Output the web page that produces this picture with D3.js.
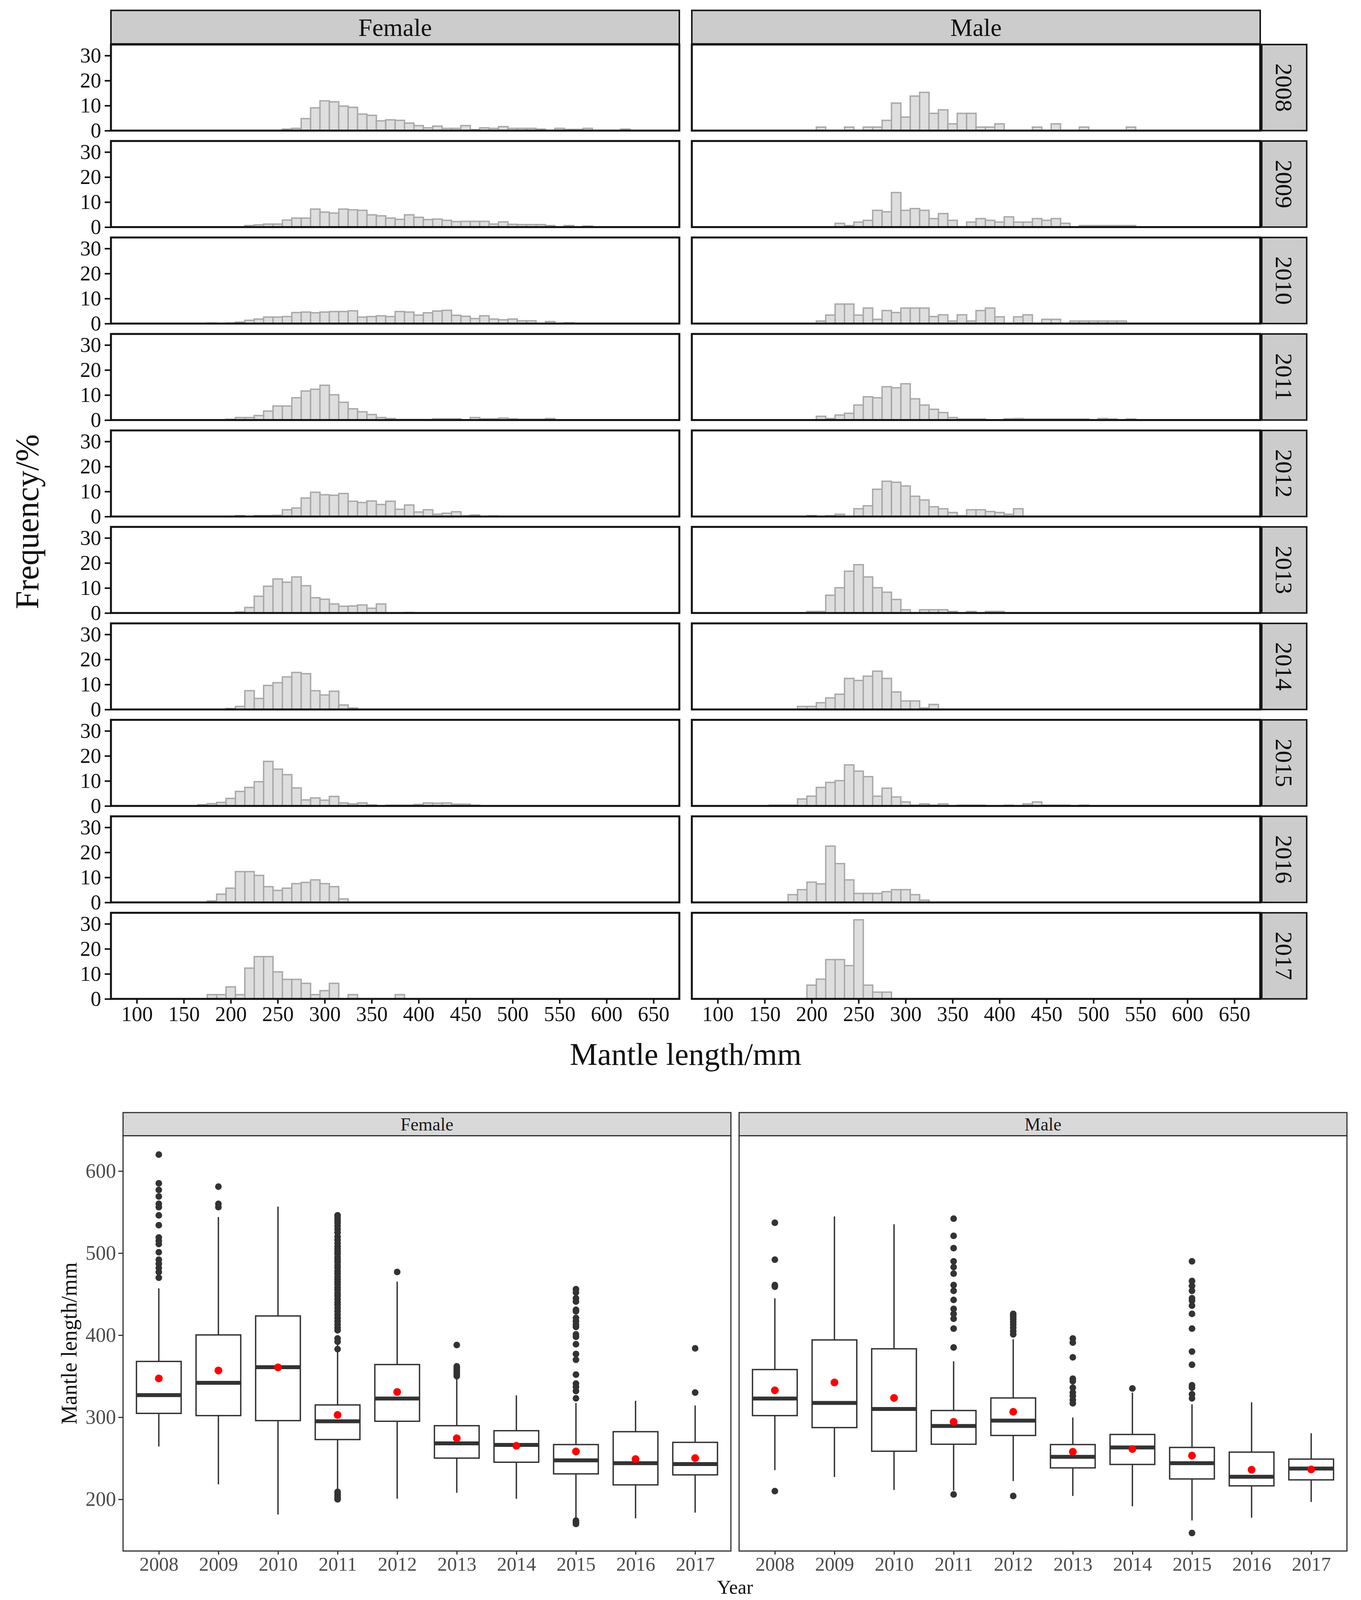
<!DOCTYPE html>
<html><head><meta charset="utf-8">
<script src="https://cdn.jsdelivr.net/npm/d3@7"></script>
<style>html,body{margin:0;padding:0;background:#fff;overflow:hidden} svg{display:block}</style>
</head><body>
<svg id="c"></svg>
<script>
// ---------------- DATA ----------------
const years = ["2008","2009","2010","2011","2012","2013","2014","2015","2016","2017"];
const sexes = ["Female","Male"];
const histXTicks = [100,150,200,250,300,350,400,450,500,550,600,650];
const histYTicks = [0,10,20,30];
const boxYTicks = [200,300,400,500,600];

// histogram: centre of first 10-mm bin and frequencies (%)
const femaleStart = [260,220,180,200,200,210,200,170,180,180];
const femaleFreq2008 = [0.6,0.9,4.8,9.1,11.9,11.5,9.8,9.3,6.6,6.1,3.9,4.3,4.1,3.0,2.0,1.1,1.8,0.9,0.9,2.0,0.4,1.1,0.9,1.6,0.9,0.9,0.9,0.6,0,0.9,0.5,0.5,0.9,0,0,0,0.6];
const femaleFreq2009 = [0.6,0.9,1.2,1.2,2.8,3.6,3.6,7.2,6.0,5.6,7.2,6.9,6.7,4.9,4.5,3.6,3.1,4.9,3.9,3.0,3.2,2.7,2.2,2.3,2.3,2.3,1.2,2.1,1.1,1.0,1.0,1.0,0.6,0,0.6,0,0.4];
const femaleFreq2010 = [0.2,0,0.2,0.6,1.3,1.8,2.6,2.6,2.8,4.4,4.6,4.3,4.6,4.8,4.8,5.1,2.6,2.8,3.1,2.8,4.8,4.6,3.4,4.3,5.0,5.3,3.3,2.9,2.0,3.1,1.8,1.5,1.8,1.1,1.1,0,0.8,0,0.3];
const femaleFreq2011 = [0.3,1.0,1.0,1.8,3.6,5.6,5.6,8.9,11.6,12.3,13.9,10.1,7.1,4.5,3.3,2.2,1.0,0.6,0.2,0.2,0.2,0.2,0.5,0.5,0.5,0,1.0,0.5,0.5,0.8,0.5,0.3,0.3,0.3,0.6];
const femaleFreq2012 = [0.1,0.4,0.1,0.4,0.4,0.5,2.7,3.4,7.4,9.7,8.7,8.5,9.2,6.1,5.6,6.2,4.8,6.1,2.9,4.6,1.8,2.7,0.9,1.3,1.9,0.3,0.6,0,0.2];
const femaleFreq2013 = [0.4,2.2,6.7,10.7,13.6,12.3,14.4,10.9,6.1,5.5,3.6,2.7,2.8,3.2,1.9,3.6,0,0,0.2];
const femaleFreq2014 = [0.4,1.2,7.5,4.4,9.6,10.7,13.0,14.8,14.3,7.5,5.8,7.3,1.8,0.6];
const femaleFreq2015 = [0.5,0.9,1.4,3.0,5.8,7.4,9.7,17.8,14.7,12.5,7.2,2.4,3.2,2.3,3.8,1.2,0.8,1.2,0.4,0,0.3,0.3,0.3,0.6,1.2,1.1,1.2,0.7,0.7,0.3];
const femaleFreq2016 = [0.6,3.3,5.7,12.3,12.3,10.8,6.3,4.8,5.7,7.5,8.0,9.0,7.5,6.3,1.4];
const femaleFreq2017 = [1.7,1.7,4.8,1.7,12.3,16.9,16.9,10.8,7.8,7.8,6.2,1.7,3.3,6.2,0,1.7,0,0,0,0,1.7];

const maleStart = [210,230,210,210,200,200,190,160,180,200];
const maleFreq2008 = [1.4,0,0,1.4,0,1.4,1.4,4.1,11.0,5.4,13.8,15.3,6.9,8.3,2.7,6.9,6.9,1.4,1.4,2.7,0,0,0,1.4,0,2.7,0,0,1.4,0,0,0,0,1.4];
const maleFreq2009 = [1.5,0.6,2.0,2.7,6.7,6.1,13.8,6.7,7.4,6.7,3.4,5.4,2.7,0,2.0,3.4,2.7,2.0,4.1,2.0,2.0,3.4,2.7,3.4,1.5,0,0.6,0.6,0.6,0.6,0.6,0.6];
const maleFreq2010 = [1.0,3.4,7.8,7.8,3.4,6.2,1.7,5.2,4.4,6.2,6.2,6.2,2.8,3.5,1.0,3.5,1.0,5.2,6.2,2.7,0,2.7,3.5,0,1.7,1.7,0,1.0,1.0,1.0,1.0,1.0,1.0];
const maleFreq2011 = [1.5,0.6,2.0,2.7,6.0,9.3,8.9,13.3,12.9,14.5,8.5,6.0,4.3,3.0,1.0,0.4,0.4,0.4,0,0,0.5,0.6,0.4,0.4,0.4,0.4,0.4,0.4,0.4,0,0.6,0.4,0,0.4];
const maleFreq2012 = [0.4,0,0.3,0.9,0,3.1,4.3,10.9,14.1,13.7,12.2,8.1,6.6,3.9,3.1,1.6,0.3,2.7,2.7,2.0,1.6,0.9,3.1];
const maleFreq2013 = [0.6,0.6,7.1,10.1,16.7,19.3,14.4,10.1,8.3,5.4,1.3,0,1.3,1.3,1.3,0.6,0,0.6,0,0.6,0.6];
const maleFreq2014 = [1.2,1.2,2.7,4.6,6.1,12.4,11.6,13.3,15.3,12.4,7.0,3.4,3.4,0.6,2.0];
const maleFreq2015 = [0.3,0.3,0.3,2.8,3.9,7.4,9.4,10.1,16.4,13.9,11.7,3.9,7.1,3.6,1.6,0.3,0.8,0.3,0.8,0,0.3,0.3,0.3,0,0,0.3,0,0.8,1.6,0.3,0.3,0.3,0,0.3];
const maleFreq2016 = [3.1,5.1,8.1,7.4,22.5,15.5,9.0,3.6,3.6,3.6,4.3,5.1,5.1,3.1,0.9];
const maleFreq2017 = [5.5,7.9,15.7,15.7,13.3,31.6,5.5,2.7,2.7];

// boxplot statistics (mm)
const femaleLo     = [264.4,218.3,181.5,210.6,200.7,208.0,200.7,176.1,176.8,183.8];
const femaleQ1     = [304.7,302.0,295.9,272.8,295.1,250.2,245.2,231.0,217.6,229.8];
const femaleMedian = [327.0,342.0,361.0,295.1,322.8,268.2,266.3,247.5,244.0,242.9];
const femaleQ3     = [368.0,400.3,423.4,315.0,364.2,289.7,283.6,266.7,282.4,269.4];
const femaleHi     = [457.0,544.0,556.6,389.0,465.2,348.9,326.6,317.4,320.1,314.3];
const femaleMean   = [347.3,357.0,360.8,302.8,330.8,274.4,265.2,258.3,249.0,250.2];
const femaleOut2008 = [620,585,577,569,560,556,546,534,519,515,511,501,492,487,482,477,470];
const femaleOut2009 = [581,560,556];
const femaleOut2010 = [];
const femaleOut2011 = [546,543,540,537,533,529,525,520,516,512,508,505,502,499,495,492,489,485,482,478,475,471,468,465,462,458,455,451,448,444,440,437,433,429,425,421,417,413,409,406,396,392,383,209,207,205,203,201,200];
const femaleOut2012 = [477];
const femaleOut2013 = [388,362,360,358,356,354,352,350];
const femaleOut2014 = [];
const femaleOut2015 = [456,452,445,441,431,429,421,417,413,410,401,398,389,377,370,352,341,337,332,323,174,172,170];
const femaleOut2016 = [];
const femaleOut2017 = [384,330];

const maleLo     = [235.6,227.2,211.4,210.6,222.2,204.1,191.5,174.2,177.6,196.8];
const maleQ1     = [302.0,287.4,258.6,267.1,277.8,238.3,242.5,224.8,216.4,223.7];
const maleMedian = [322.8,317.4,310.1,289.4,295.9,251.7,263.2,244.0,227.5,237.5];
const maleQ3     = [358.1,394.2,383.4,308.2,323.5,266.7,279.0,263.2,257.5,249.0];
const maleHi     = [444.9,544.7,535.1,368.1,395.0,299.7,330.0,315.9,318.2,280.5];
const maleMean   = [332.8,342.4,323.5,294.4,306.6,257.9,261.3,253.3,236.0,236.4];
const maleOut2008 = [537,492,461,459,210];
const maleOut2009 = [];
const maleOut2010 = [];
const maleOut2011 = [542,521,506,490,483,475,461,454,443,432,426,420,408,385,206];
const maleOut2012 = [426,424,422,419,416,413,409,405,401,204];
const maleOut2013 = [396,391,373,347,344,336,330,326,321,317];
const maleOut2014 = [335];
const maleOut2015 = [490,466,460,454,445,442,436,426,408,380,364,339,336,328,323,159];
const maleOut2016 = [];
const maleOut2017 = [];

// ---------------- ASSEMBLY ----------------
const histStarts = [femaleStart, maleStart];
const histFreqs = [
  [femaleFreq2008,femaleFreq2009,femaleFreq2010,femaleFreq2011,femaleFreq2012,femaleFreq2013,femaleFreq2014,femaleFreq2015,femaleFreq2016,femaleFreq2017],
  [maleFreq2008,maleFreq2009,maleFreq2010,maleFreq2011,maleFreq2012,maleFreq2013,maleFreq2014,maleFreq2015,maleFreq2016,maleFreq2017]
];
const boxStats = [
  {lo:femaleLo,q1:femaleQ1,med:femaleMedian,q3:femaleQ3,hi:femaleHi,mean:femaleMean,
   out:[femaleOut2008,femaleOut2009,femaleOut2010,femaleOut2011,femaleOut2012,femaleOut2013,femaleOut2014,femaleOut2015,femaleOut2016,femaleOut2017]},
  {lo:maleLo,q1:maleQ1,med:maleMedian,q3:maleQ3,hi:maleHi,mean:maleMean,
   out:[maleOut2008,maleOut2009,maleOut2010,maleOut2011,maleOut2012,maleOut2013,maleOut2014,maleOut2015,maleOut2016,maleOut2017]}
];

// ---------------- PAGE FIT ----------------
// design is 3484 x 5390; fit vertically into the real window height
const DESIGN_H = 5390;
const winH = window.innerHeight || DESIGN_H;
const SY = winH < DESIGN_H ? winH / DESIGN_H : 1;
const Y = v => v * SY;

const FONT = "'Liberation Serif','Times New Roman',serif";
const svg = d3.select("#c").attr("width",3484).attr("height",Math.floor(DESIGN_H*SY));
svg.append("rect").attr("width",3484).attr("height",DESIGN_H*SY).attr("fill","#fff");

// ---------------- HISTOGRAMS ----------------
const H = {x0:[284,1771], w:1455, top:Y(150), pitch:Y(325), h:Y(290), stripY:Y(35), stripH:Y(113), rsX:3230, rsW:115};
const xH = d3.scaleLinear().domain([72.5,677.5]).range([0,H.w]);
const yH = d3.scaleLinear().domain([0,34.4]).range([H.h,0]);

sexes.forEach((sex, si) => {
  const x0 = H.x0[si];
  svg.append("rect").attr("x",x0).attr("y",H.stripY).attr("width",H.w).attr("height",H.stripH)
    .attr("fill","#cccccc").attr("stroke","#1a1a1a").attr("stroke-width",4);
  svg.append("text").attr("x",x0+H.w/2).attr("y",H.stripY+H.stripH/2).attr("dy","0.35em")
    .attr("text-anchor","middle").attr("font-family",FONT).attr("font-size",64).attr("fill","#111").text(sex);

  years.forEach((yr, yi) => {
    const py = H.top + yi*H.pitch;
    const g = svg.append("g").attr("transform",`translate(${x0},${py})`);
    const start = histStarts[si][yi];
    const data = histFreqs[si][yi].map((f,i)=>({c:start+10*i, f})).filter(d=>d.f>0);
    g.selectAll("rect.bar").data(data).join("rect").attr("class","bar")
      .attr("x",d=>xH(d.c-5)).attr("width",d=>xH(d.c+5)-xH(d.c-5))
      .attr("y",d=>yH(d.f)).attr("height",d=>yH(0)-yH(d.f))
      .attr("fill","#dedede").attr("stroke","#a8a8a8").attr("stroke-width",3.5);
    g.append("rect").attr("width",H.w).attr("height",H.h).attr("fill","none")
      .attr("stroke","#111").attr("stroke-width",5);

    if (si===0) {
      const ax = g.append("g").call(d3.axisLeft(yH).tickValues(histYTicks).tickSize(16).tickPadding(9));
      ax.select(".domain").remove();
      ax.selectAll("line").attr("stroke","#111").attr("stroke-width",4);
      ax.selectAll("text").attr("font-family",FONT).attr("font-size",54).attr("fill","#111");
    }
    if (yi===years.length-1) {
      const ax = g.append("g").attr("transform",`translate(0,${H.h})`)
        .call(d3.axisBottom(xH).tickValues(histXTicks).tickSize(Y(16)).tickPadding(Y(8)));
      ax.select(".domain").remove();
      ax.selectAll("line").attr("stroke","#111").attr("stroke-width",4);
      ax.selectAll("text").attr("font-family",FONT).attr("font-size",54).attr("fill","#111");
    }
    if (si===1) {
      svg.append("rect").attr("x",H.rsX).attr("y",py).attr("width",H.rsW).attr("height",H.h)
        .attr("fill","#cccccc").attr("stroke","#1a1a1a").attr("stroke-width",4);
      svg.append("text").attr("transform",`translate(${H.rsX+H.rsW/2},${py+H.h/2}) rotate(90)`)
        .attr("dy","0.35em").attr("text-anchor","middle").attr("font-family",FONT)
        .attr("font-size",62).attr("fill","#111").text(yr);
    }
  });
});
svg.append("text").attr("x",(H.x0[0]+H.x0[1]+H.w)/2).attr("y",Y(3550)).attr("dy","0.35em").attr("text-anchor","middle")
  .attr("font-family",FONT).attr("font-size",80).attr("fill","#111").text("Mantle length/mm");
svg.append("text").attr("transform",`translate(69,${H.top+(9*H.pitch+H.h)/2}) rotate(-90)`)
  .attr("dy","0.35em").attr("text-anchor","middle").attr("font-family",FONT).attr("font-size",84).attr("fill","#111").text("Frequency/%");

// ---------------- BOXPLOTS ----------------
const B = {x0:[315,1892], w:1556, stripY:Y(3748), stripH:Y(78), top:Y(3826), h:Y(1399)};
const yB = d3.scaleLinear().domain([137,643]).range([B.h,0]);
const stepB = B.w/10.2;
const xB = d3.scalePoint().domain(years).range([0.6*stepB, B.w-0.6*stepB]);
const bw = 0.75*stepB;
const DARK = "#333333";

sexes.forEach((sex, si) => {
  const x0 = B.x0[si];
  const st = boxStats[si];
  svg.append("rect").attr("x",x0).attr("y",B.stripY).attr("width",B.w).attr("height",B.stripH)
    .attr("fill","#d9d9d9").attr("stroke",DARK).attr("stroke-width",3);
  svg.append("text").attr("x",x0+B.w/2).attr("y",B.stripY+B.stripH/2).attr("dy","0.35em")
    .attr("text-anchor","middle").attr("font-family",FONT).attr("font-size",46).attr("fill","#1a1a1a").text(sex);

  const g = svg.append("g").attr("transform",`translate(${x0},${B.top})`);
  const rows = years.map((yr,i)=>({yr, lo:st.lo[i], q1:st.q1[i], med:st.med[i], q3:st.q3[i], hi:st.hi[i], mean:st.mean[i], out:st.out[i]}));

  rows.forEach(r => {
    g.selectAll(null).data(r.out).join("circle")
      .attr("cx",xB(r.yr)).attr("cy",d=>yB(d)).attr("r",8.5).attr("fill",DARK);
  });
  g.selectAll("line.wl").data(rows).join("line").attr("class","wl")
    .attr("x1",d=>xB(d.yr)).attr("x2",d=>xB(d.yr)).attr("y1",d=>yB(d.lo)).attr("y2",d=>yB(d.q1))
    .attr("stroke",DARK).attr("stroke-width",3.5);
  g.selectAll("line.wh").data(rows).join("line").attr("class","wh")
    .attr("x1",d=>xB(d.yr)).attr("x2",d=>xB(d.yr)).attr("y1",d=>yB(d.q3)).attr("y2",d=>yB(d.hi))
    .attr("stroke",DARK).attr("stroke-width",3.5);
  g.selectAll("rect.box").data(rows).join("rect").attr("class","box")
    .attr("x",d=>xB(d.yr)-bw/2).attr("width",bw).attr("y",d=>yB(d.q3)).attr("height",d=>yB(d.q1)-yB(d.q3))
    .attr("fill","#fff").attr("stroke",DARK).attr("stroke-width",3.5);
  g.selectAll("line.med").data(rows).join("line").attr("class","med")
    .attr("x1",d=>xB(d.yr)-bw/2).attr("x2",d=>xB(d.yr)+bw/2).attr("y1",d=>yB(d.med)).attr("y2",d=>yB(d.med))
    .attr("stroke",DARK).attr("stroke-width",10);
  g.selectAll("circle.mean").data(rows).join("circle").attr("class","mean")
    .attr("cx",d=>xB(d.yr)).attr("cy",d=>yB(d.mean)).attr("r",10).attr("fill","#ff0000");

  g.append("rect").attr("width",B.w).attr("height",B.h).attr("fill","none").attr("stroke",DARK).attr("stroke-width",3);

  const axx = g.append("g").attr("transform",`translate(0,${B.h})`)
    .call(d3.axisBottom(xB).tickSize(Y(12)).tickPadding(6));
  axx.select(".domain").remove();
  axx.selectAll("line").attr("stroke",DARK).attr("stroke-width",3);
  axx.selectAll("text").attr("font-family",FONT).attr("font-size",50).attr("fill","#4d4d4d");

  if (si===0) {
    const axy = g.append("g").call(d3.axisLeft(yB).tickValues(boxYTicks).tickSize(12).tickPadding(6));
    axy.select(".domain").remove();
    axy.selectAll("line").attr("stroke",DARK).attr("stroke-width",3);
    axy.selectAll("text").attr("font-family",FONT).attr("font-size",52).attr("fill","#4d4d4d");
  }
});
svg.append("text").attr("transform",`translate(176,${B.top+B.h/2}) rotate(-90)`)
  .attr("dy","0.35em").attr("text-anchor","middle").attr("font-family",FONT).attr("font-size",56).attr("fill","#111").text("Mantle length/mm");
svg.append("text").attr("x",(B.x0[0]+B.x0[1]+B.w)/2).attr("y",Y(5369)).attr("text-anchor","middle")
  .attr("font-family",FONT).attr("font-size",50).attr("fill","#111").text("Year");
</script>
</body></html>
